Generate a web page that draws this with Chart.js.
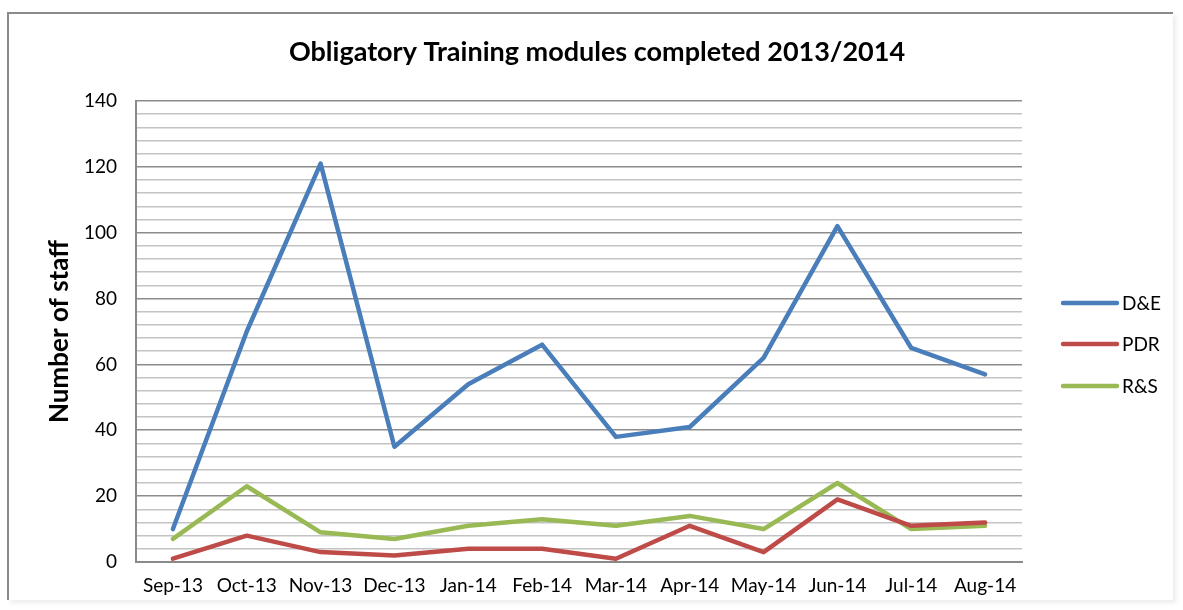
<!DOCTYPE html>
<html>
<head>
<meta charset="utf-8">
<script src="https://cdn.jsdelivr.net/npm/chart.js@4"></script>
<style>
	html, body { margin: 0; padding: 0; background: #fff; }
	#frame {
		position: absolute; left: 0; top: 0; width: 1183px; height: 610px;
	}
	#border {
		position: absolute; left: 7px; top: 12px; width: 1164px; height: 586px;
		border-left: 2px solid #8a8a8a; border-top: 2px solid #8a8a8a;
		box-shadow: 3px 3px 5px rgba(0,0,0,0.08);
	}
	canvas { position: absolute; left: 0; top: 0; }
</style>
</head>
<body>
<div id="frame">
	<div id="border"></div>
	<canvas id="chart" width="1183" height="610"></canvas>
</div>
<script>
const months = ['Sep-13', 'Oct-13', 'Nov-13', 'Dec-13', 'Jan-14', 'Feb-14', 'Mar-14', 'Apr-14', 'May-14', 'Jun-14', 'Jul-14', 'Aug-14'];
const de = [10, 70, 121, 35, 54, 66, 38, 41, 62, 102, 65, 57];
const pdr = [1, 8, 3, 2, 4, 4, 1, 11, 3, 19, 11, 12];
const rs = [7, 23, 9, 7, 11, 13, 11, 14, 10, 24, 10, 11];
const seriesNames = ['D&E', 'PDR', 'R&S'];
const seriesColors = ['#4a7ebb', '#be4b48', '#98b954'];
const chartTitle = 'Obligatory Training modules completed 2013/2014';

const FONT = 'Lato, Carlito, Calibri, sans-serif';

// title and legend drawn by hand so they sit like the Excel ones
const excelDecor = {
	id: 'excelDecor',
	afterDraw(chart) {
		let ctx = chart.ctx;
		ctx.save();
		ctx.fillStyle = '#000';
		ctx.font = 'bold 27px ' + FONT;
		ctx.textAlign = 'center';
		ctx.textBaseline = 'middle';
		ctx.fillText(chartTitle, 597, 52);

		let ys = [303, 344, 386];
		ctx.textAlign = 'left';
		chart.data.datasets.forEach((ds, i) => {
			ctx.strokeStyle = ds.borderColor;
			ctx.lineWidth = 4.5;
			ctx.lineCap = 'round';
			ctx.beginPath();
			ctx.moveTo(1063, ys[i]);
			ctx.lineTo(1117, ys[i]);
			ctx.stroke();
			ctx.fillStyle = '#000';
			ctx.font = '19px ' + FONT;
			ctx.fillText(ds.label, 1122, ys[i] + 1);
		});
		ctx.restore();
	}
};

const datasets = [de, pdr, rs].map((values, i) => ({
	label: seriesNames[i],
	data: values,
	borderColor: seriesColors[i],
	backgroundColor: seriesColors[i],
	borderWidth: 4.5,
	pointRadius: 0,
	tension: 0,
	borderCapStyle: 'round',
	borderJoinStyle: 'round',
}));

new Chart(document.getElementById('chart'), {
	type: 'line',
	data: {
		labels: months,
		datasets: datasets,
	},
	options: {
		responsive: false,
		animation: false,
		layout: {
			padding: {left: 40, right: 161, top: 101, bottom: 1}
		},
		scales: {
			x: {
				offset: true,
				grid: { display: false, drawTicks: false },
				border: { color: '#8a8a8a', width: 2 },
				ticks: {
					color: '#000',
					padding: 14,
					maxRotation: 0,
					autoSkip: false,
					font: { family: FONT, size: 19, lineHeight: 1.0 },
				},
			},
			y: {
				min: 0,
				max: 140,
				afterFit: (scale) => { scale.width = 96; },
				border: { color: '#8a8a8a', width: 2 },
				grid: {
					drawTicks: false,
					color: (c) => c.tick && c.tick.value % 20 === 0 ? '#8c8c8c' : '#c3c3c3',
					lineWidth: 1.6,
				},
				ticks: {
					stepSize: 4,
					autoSkip: false,
					maxTicksLimit: 100,
					padding: 19,
					color: '#000',
					font: { family: FONT, size: 19 },
					callback: (v) => v % 20 === 0 ? v : '',
				},
				title: {
					display: true,
					text: 'Number of staff',
					color: '#000',
					font: { family: FONT, size: 26, weight: 'bold' },
					padding: { top: 4, bottom: 4 },
				},
			},
		},
		plugins: {
			legend: { display: false },
			tooltip: { enabled: false },
			title: { display: false },
		},
	},
	plugins: [excelDecor],
});
</script>
</body>
</html>
